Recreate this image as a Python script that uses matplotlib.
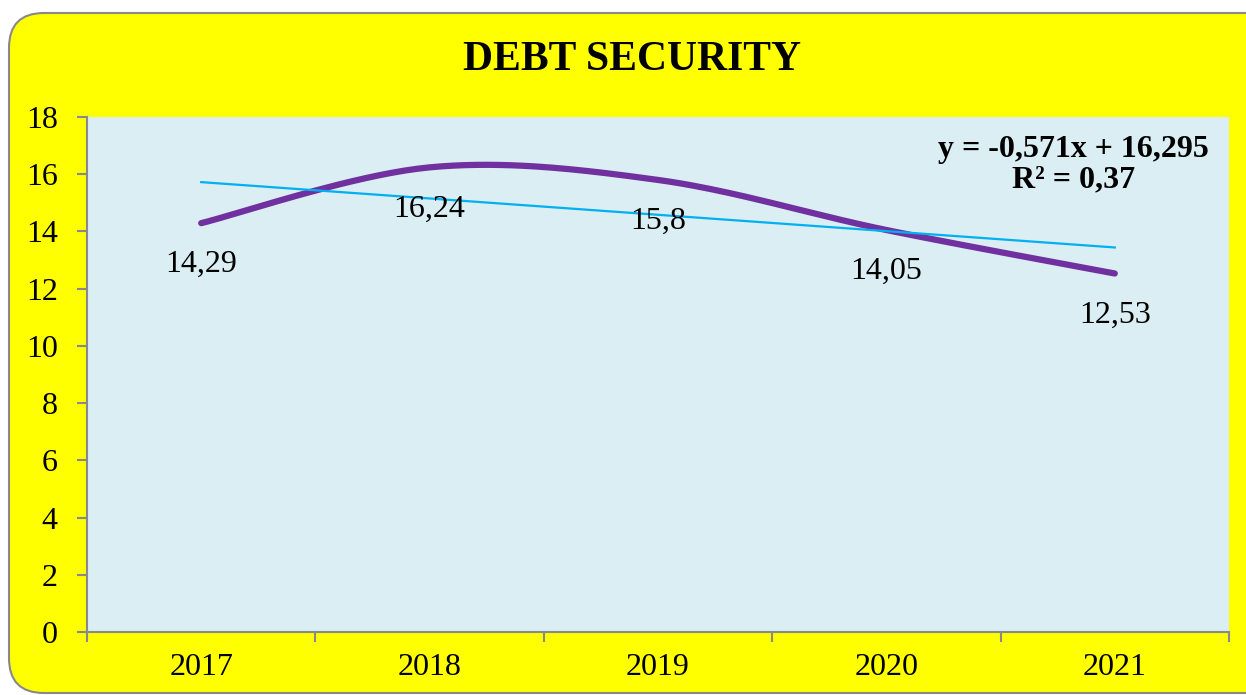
import numpy as np
import matplotlib.pyplot as plt
from matplotlib.patches import FancyBboxPatch

# dati
anni = ["2017", "2018", "2019", "2020", "2021"]
valori = [14.29, 16.24, 15.8, 14.05, 12.53]
etichette = ["14,29", "16,24", "15,8", "14,05", "12,53"]
pendenza = -0.571
intercetta = 16.295
equazione = "y = -0,571x + 16,295\nR² = 0,37"
yticks = [0, 2, 4, 6, 8, 10, 12, 14, 16, 18]

plt.rcParams['font.family'] = ['Liberation Serif', 'DejaVu Serif']

fig = plt.figure(figsize=(12.46, 6.95), dpi=100)
fig.patch.set_facecolor('white')

# cornice gialla arrotondata
cornice = FancyBboxPatch((9 / 1246, 2 / 695), 1.2, (682 - 2) / 695,
                         boxstyle="round,pad=0,rounding_size=0.028",
                         transform=fig.transFigure, facecolor='#FFFF00',
                         edgecolor='#898989', linewidth=1.5,
                         mutation_aspect=1246 / 695, zorder=-1)
fig.patches.append(cornice)

ax = fig.add_axes([87 / 1246, 63 / 695, (1229 - 87) / 1246, (632 - 117) / 695])
ax.set_zorder(1)
ax.set_facecolor('#DAEEF3')

x = np.arange(len(valori))
y = np.array(valori)


# linea smussata tipo Excel (bezier cubica)
def smussa(xp, yp, n=40):
    px = np.concatenate([[xp[0]], xp, [xp[-1]]])
    py = np.concatenate([[yp[0]], yp, [yp[-1]]])
    xs, ys = [], []
    for i in range(1, len(px) - 2):
        p0 = np.array([px[i - 1], py[i - 1]])
        p1 = np.array([px[i], py[i]])
        p2 = np.array([px[i + 1], py[i + 1]])
        p3 = np.array([px[i + 2], py[i + 2]])
        c1 = p1 + (p2 - p0) / 6
        c2 = p2 - (p3 - p1) / 6
        t = np.linspace(0, 1, n)[:, None]
        b = (1 - t) ** 3 * p1 + 3 * (1 - t) ** 2 * t * c1 + 3 * (1 - t) * t ** 2 * c2 + t ** 3 * p2
        xs.extend(b[:, 0])
        ys.extend(b[:, 1])
    return np.array(xs), np.array(ys)


sx, sy = smussa(x, y)
ax.plot(sx, sy, color='#7030A0', lw=4.5, solid_capstyle='round', zorder=3)

# linea di tendenza
trend = pendenza * (x + 1) + intercetta
ax.plot(x, trend, color='#00B0F0', lw=1.6, zorder=4)

for xi, yi, lab in zip(x, y, etichette):
    ax.annotate(lab, (xi, yi), xytext=(0, -30), textcoords='offset points',
                ha='center', va='center', fontsize=23, zorder=5)

ax.text(0.982, 0.965, equazione, transform=ax.transAxes, ha='right', va='top',
        fontsize=23, fontweight='bold', multialignment='center', linespacing=1.05)

ax.set_xlim(-0.5, len(anni) - 0.5)
ax.set_ylim(0, 18)
ax.set_yticks(yticks)
ax.set_yticklabels([str(v) for v in yticks], fontsize=23)
ax.set_xticks(x)
ax.set_xticklabels(anni, fontsize=23)
ax.set_xticks(np.arange(-0.5, len(anni)), minor=True)
ax.tick_params(axis='x', which='major', length=0, pad=15)
ax.tick_params(axis='x', which='minor', length=7, color='#898989', width=1.5)
ax.tick_params(axis='y', length=7, color='#898989', width=1.5, pad=14)

for s in ['top', 'right']:
    ax.spines[s].set_visible(False)
for s in ['left', 'bottom']:
    ax.spines[s].set_color('#898989')
    ax.spines[s].set_linewidth(1.5)

fig.text(632 / 1246, 1 - 60 / 695, "DEBT SECURITY", ha='center', va='center',
         fontsize=30, fontweight='bold')

fig.savefig('out.png', dpi=100, facecolor=fig.get_facecolor())
